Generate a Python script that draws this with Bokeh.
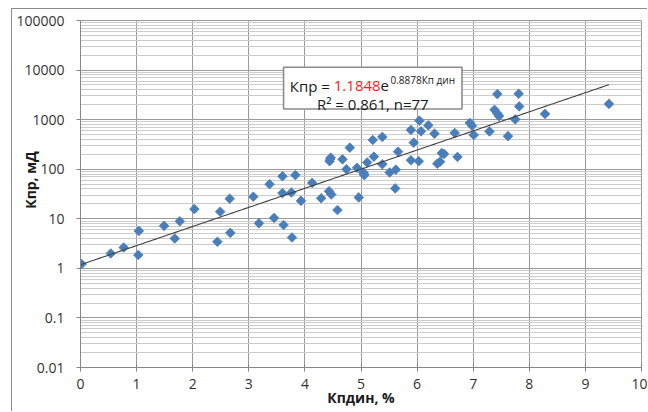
import numpy as np
from bokeh.plotting import figure
from bokeh.models import (FixedTicker, CustomJSTickFormatter, Label,
                          ColumnDataSource, Range1d)
from bokeh.embed import file_html
from bokeh.resources import INLINE

# ---- data ----
kp_din = [0.02, 0.54, 0.77, 1.04, 1.03, 1.49, 1.77, 1.68, 2.03, 2.44,
          2.49, 2.66, 2.67, 3.08, 3.18, 3.37, 3.45, 3.60, 3.60, 3.62,
          3.76, 3.83, 3.77, 3.93, 4.13, 4.29, 4.43, 4.47, 4.58, 4.46,
          4.44, 4.67, 4.74, 4.80, 4.93, 4.96, 5.04, 5.06, 5.11, 5.21,
          5.23, 5.38, 5.38, 5.51, 5.62, 5.61, 5.66, 5.89, 5.94, 5.89,
          6.03, 6.04, 6.07, 6.20, 6.31, 6.36, 6.41, 6.44, 6.48, 6.67,
          6.72, 6.94, 6.98, 7.01, 7.29, 7.38, 7.43, 7.43, 7.46, 7.62,
          7.75, 7.81, 7.82, 8.28, 9.42, 5.05, 4.45]
k_pr = [1.22, 2.0, 2.64, 5.7, 1.86, 7.2, 8.9, 4.0, 15.7, 3.44,
        13.9, 25.4, 5.2, 27.9, 8.1, 50, 10.4, 72, 33, 7.5,
        34, 76, 4.2, 23, 53, 26, 36, 31, 15, 171,
        145, 158, 100, 272, 107, 27, 86, 76, 137, 389,
        179, 448, 126, 86, 98, 41, 226, 620, 343, 152,
        145, 955, 581, 768, 522, 129, 142, 211, 203, 539,
        177, 858, 757, 491, 578, 1578, 3273, 1334, 1178, 465,
        1015, 3320, 1848, 1304, 2075, 80, 160]

fit_a = 1.1848
fit_b = 0.8878
r_squared = 0.861
n_points = 77

x_ticks = [0, 1, 2, 3, 4, 5, 6, 7, 8, 9, 10]
y_ticks = [0.01, 0.1, 1, 10, 100, 1000, 10000, 100000]
y_minor = [m * d for d in [0.01, 0.1, 1, 10, 100, 1000, 10000] for m in range(2, 10)]

x_title = "Кпдин, %"
y_title = "Кпр, мД"

FONT = "Open Sans"

p = figure(width=636, height=403, x_range=Range1d(0, 10), y_range=Range1d(0.01, 100000),
           y_axis_type="log", output_backend="svg", toolbar_location=None,
           min_border_left=68, min_border_right=7, min_border_top=11, min_border_bottom=45)
p.margin = (8, 0, 0, 11)
p.styles = {"border-left": "1px solid #8c8c8c", "border-top": "1px solid #8c8c8c"}
p.background_fill_color = "white"
p.border_fill_color = "white"
p.outline_line_color = "#9a9a9a"

# grids
p.xgrid.ticker = FixedTicker(ticks=x_ticks)
p.xgrid.grid_line_color = "#9a9a9a"
p.ygrid.ticker = FixedTicker(ticks=y_ticks, minor_ticks=y_minor)
p.ygrid.grid_line_color = "#9a9a9a"
p.ygrid.minor_grid_line_color = "#cccccc"

# axes
p.xaxis.ticker = FixedTicker(ticks=x_ticks)
p.yaxis.ticker = FixedTicker(ticks=y_ticks, minor_ticks=y_minor)
p.yaxis.formatter = CustomJSTickFormatter(code="""
const e = Math.round(Math.log10(tick));
if (e < 0) return Math.pow(10, e).toFixed(-e);
return String(Math.round(Math.pow(10, e)));
""")
for ax in (p.xaxis, p.yaxis):
    ax.axis_line_color = "#868686"
    ax.major_tick_line_color = "#868686"
    ax.minor_tick_line_color = None
    ax.major_label_text_font = FONT
    ax.major_label_text_font_size = "14px"
    ax.major_label_text_color = "#333333"
    ax.axis_label_text_font = FONT
    ax.axis_label_text_font_size = "14px"
    ax.axis_label_text_font_style = "bold"
    ax.axis_label_text_color = "#1a1a1a"
p.xaxis.major_tick_out = 4
p.xaxis.major_tick_in = 4
p.xaxis.major_label_standoff = 7
p.xaxis.axis_label = x_title
p.xaxis.axis_label_standoff = -4
p.yaxis.major_tick_out = 4
p.yaxis.major_tick_in = 0
p.yaxis.major_label_standoff = 12
p.yaxis.axis_label = "\u2002\u2002\u2002\u2002" + y_title
p.yaxis.axis_label_standoff = -27

# equation box
p.quad(left=[3.62], right=[6.80], bottom=[1644], top=[11380],
       fill_color="white", line_color="#8c8c8c", line_width=1.6)

# data points
src = ColumnDataSource(dict(x=kp_din, y=k_pr))
p.scatter("x", "y", source=src, marker="square", angle=np.pi / 4, size=6.8,
          fill_color="#4a7ebb", line_color="#4a7ebb", line_width=0.8)

# trend line from the displayed fit
xt = np.linspace(0, max(kp_din), 200)
p.line(xt, fit_a * np.exp(fit_b * xt), line_color="#404040", line_width=1.1)

row1_y = 4860
p.add_layout(Label(x=3.731, y=row1_y, text="Кпр = ", text_font=FONT, text_font_size="15px",
                   text_color="#1a1a1a", text_baseline="alphabetic"))
p.add_layout(Label(x=4.515, y=row1_y, text=f"{fit_a:.4f}", text_font=FONT, text_font_size="15px",
                   text_color="#ff1a1a", text_baseline="alphabetic"))
p.add_layout(Label(x=5.348, y=row1_y, text="e", text_font=FONT, text_font_size="15px",
                   text_color="#1a1a1a", text_baseline="alphabetic"))
p.add_layout(Label(x=5.526, y=6427, text=f"{fit_b:.4f}Кп дин", text_font=FONT, text_font_size="10px",
                   text_color="#1a1a1a", text_baseline="alphabetic"))
p.add_layout(Label(x=5.21, y=2075, text=f"R² = {r_squared:.3f}, n={n_points}", text_font=FONT,
                   text_font_size="15px", text_color="#1a1a1a", text_baseline="alphabetic",
                   text_align="center"))

open("out.html", "w").write(file_html(p, INLINE))
